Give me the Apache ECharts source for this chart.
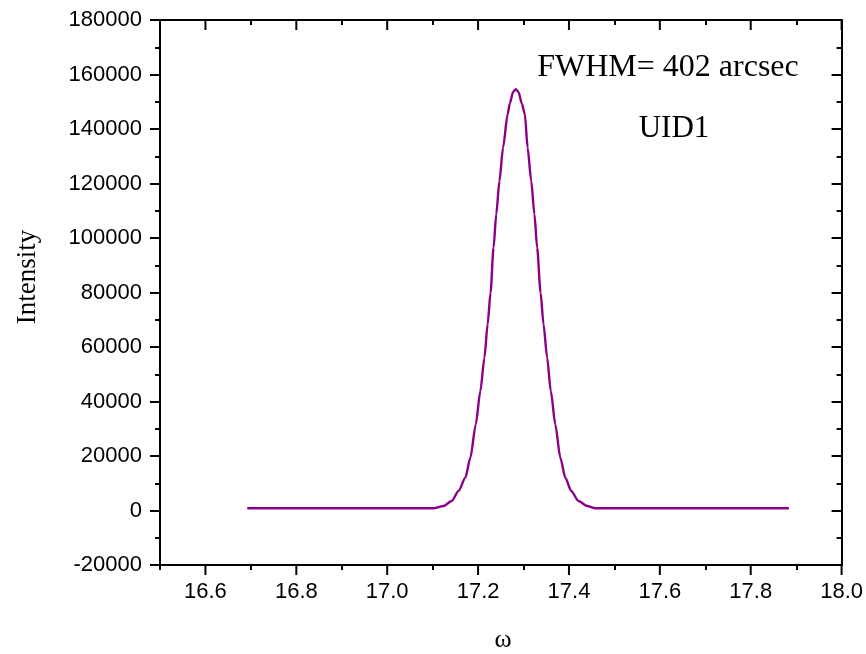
<!DOCTYPE html>
<html>
<head>
<meta charset="utf-8">
<script src="https://cdn.jsdelivr.net/npm/echarts@6/dist/echarts.min.js"></script>
<style>html,body{margin:0;padding:0;background:#fff}#c{width:866px;height:654px}</style>
</head>
<body>
<div id="c"></div>
<script>
var omega = [16.692, 17.102, 17.124, 17.142, 17.157, 17.172, 17.183, 17.195, 17.205, 17.214, 17.221, 17.2275, 17.234, 17.240, 17.247, 17.255, 17.265, 17.270, 17.277, 17.283, 17.289, 17.296, 17.303, 17.309, 17.317, 17.324, 17.330, 17.3375, 17.344, 17.352, 17.360, 17.370, 17.381, 17.392, 17.405, 17.421, 17.440, 17.458, 17.884];
var intensity = [800, 800, 1650, 3490, 7160, 12040, 19380, 31620, 43850, 56090, 68330, 80000, 96440, 108700, 120900, 133150, 145400, 149500, 153600, 154600, 153600, 149500, 145400, 133150, 120900, 108700, 96440, 80000, 68330, 56090, 43850, 31620, 19380, 12040, 7160, 3490, 1650, 800, 800];
var xMajorTicks = [16.6, 16.8, 17.0, 17.2, 17.4, 17.6, 17.8, 18.0];
var xMinorTicks = [16.5, 16.7, 16.9, 17.1, 17.3, 17.5, 17.7, 17.9];
var annotations = ['FWHM= 402 arcsec', 'UID1'];
var xTitle = 'ω';
var yTitle = 'Intensity';

var chart = echarts.init(document.getElementById('c'), null, {renderer: 'canvas'});
var pairs = omega.map(function (x, i) { return [x, intensity[i]]; });
var black = '#000';
var X_MIN = 16.5, X_MAX = 18.0, Y_MIN = -20000, Y_MAX = 180000;
var MAJOR_LEN = 10;
function box() { return {left: 160, right: 24, top: 20, bottom: 89, containLabel: false}; }
function ts() { return {color: black, width: 2}; }

function xAx(gridIndex, position, opts) {
  var a = {
    type: 'value', min: X_MIN, max: X_MAX, gridIndex: gridIndex, position: position,
    splitLine: {show: false},
    axisLine: {show: false, onZero: false},
    axisTick: {show: false},
    axisLabel: {show: false}
  };
  for (var k in opts) a[k] = opts[k];
  return a;
}
function yAx(gridIndex, position, inside, showLabel, visible) {
  return {
    type: 'value', min: Y_MIN, max: Y_MAX, interval: 20000, gridIndex: gridIndex, position: position,
    show: visible,
    splitLine: {show: false},
    axisLine: {show: true, onZero: false, lineStyle: {color: black, width: 2}},
    axisTick: {show: true, inside: inside, length: 10, lineStyle: ts()},
    minorTick: {show: true, splitNumber: 2, length: 5, lineStyle: ts()},
    minorSplitLine: {show: false},
    axisLabel: showLabel ? {margin: 18, formatter: function (v) { return String(v); },
      fontFamily: 'Liberation Sans', fontSize: 22, color: black} : {show: false}
  };
}

var option = {
  animation: false,
  backgroundColor: '#fff',
  grid: [box(), box()],
  xAxis: [
    xAx(0, 'bottom', {axisLine: {show: true, onZero: false, lineStyle: {color: black, width: 2}},
      axisLabel: {show: true, customValues: xMajorTicks.slice(), margin: 16,
        formatter: function (v) { return Number(v).toFixed(1); },
        fontFamily: 'Liberation Sans', fontSize: 22, color: black}}),
    xAx(0, 'top', {axisLine: {show: true, onZero: false, lineStyle: {color: black, width: 2}}}),
    xAx(1, 'bottom', {axisTick: {show: true, customValues: xMinorTicks.slice(), length: 5, lineStyle: ts()}}),
    xAx(1, 'top', {axisTick: {show: true, inside: true, customValues: xMinorTicks.slice(), length: 5, lineStyle: ts()}})
  ],
  yAxis: [
    yAx(0, 'left', false, true, true),
    yAx(0, 'right', true, false, true),
    yAx(1, 'left', false, false, false)
  ],
  series: [
    {
      type: 'line', xAxisIndex: 0, yAxisIndex: 0,
      data: pairs, showSymbol: false, smooth: 0.25, smoothMonotone: 'x',
      lineStyle: {color: '#8B008B', width: 2.4}, itemStyle: {color: '#8B008B'}
    },
    {
      // major x tick marks, positioned through the axis scale
      type: 'custom', xAxisIndex: 0, yAxisIndex: 0, clip: false, silent: true, z: 5,
      data: xMajorTicks.map(function (v) { return [v, Y_MIN]; }),
      encode: {x: 0, y: 1},
      renderItem: function (params, api) {
        var v = api.value(0);
        var pb = api.coord([v, Y_MIN]);
        var pt = api.coord([v, Y_MAX]);
        var st = {stroke: black, lineWidth: 2};
        return {type: 'group', children: [
          {type: 'line', shape: {x1: pb[0], y1: pb[1], x2: pb[0], y2: pb[1] + MAJOR_LEN}, style: st},
          {type: 'line', shape: {x1: pt[0], y1: pt[1], x2: pt[0], y2: pt[1] + MAJOR_LEN}, style: st}
        ]};
      }
    }
  ],
  graphic: [
    {type: 'text', x: 668, y: 84, style: {text: annotations[0], font: '32px "Liberation Serif"', fill: black, textAlign: 'center', textVerticalAlign: 'bottom'}},
    {type: 'text', x: 674, y: 144, style: {text: annotations[1], font: '31px "Liberation Serif"', fill: black, textAlign: 'center', textVerticalAlign: 'bottom'}},
    {type: 'text', x: 503, y: 640, style: {text: xTitle, font: '26px "Liberation Serif"', fill: black, textAlign: 'center', textVerticalAlign: 'middle'}},
    {type: 'text', x: 28, y: 277, rotation: Math.PI / 2, style: {text: yTitle, font: '27px "Liberation Serif"', fill: black, textAlign: 'center', textVerticalAlign: 'middle'}}
  ]
};
chart.setOption(option);
</script>
</body>
</html>
